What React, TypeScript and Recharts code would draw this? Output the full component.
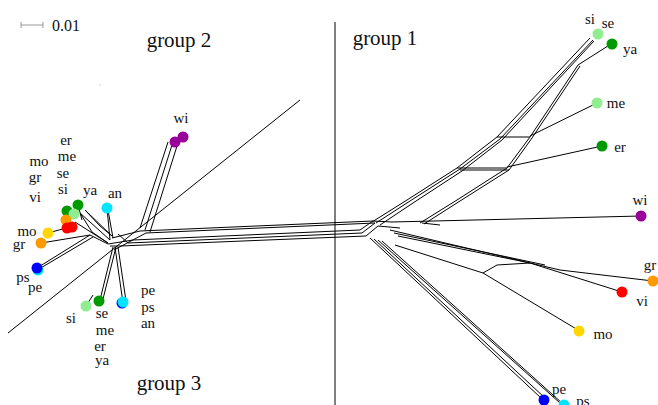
// Splits network of taxa in three groups, drawn on a pixel-like numeric plane.

import { ScatterChart, Scatter, XAxis, YAxis, ReferenceLine } from 'recharts';

const W = 658;
const H = 405;
const FONT = '"Liberation Serif", "DejaVu Serif", serif';

// taxa dots
const dotName = ['wi', 'wi', 'er', 'ya', 'si', 'mo', 'vi', 'vi', 'mo', 'gr', 'ps', 'pe', 'an', 'si', 'se', 'ps', 'an',
  'si', 'ya', 'me', 'er', 'wi', 'gr', 'vi', 'mo', 'pe', 'ps'];
const dotX = [175, 183, 67, 78, 74, 66, 67, 72, 48, 41, 38, 37, 107, 86, 99, 122, 123,
  598, 612, 597, 602, 641, 653, 622, 579, 544, 564];
const dotY = [142, 137, 211, 205, 214, 220, 228, 227, 233, 243, 270, 268, 208, 306, 301, 303, 302,
  34, 44, 103, 146, 216, 281, 292, 331, 400, 405];
const dotColor = ['#990099', '#990099', '#009900', '#009900', '#90ee90', '#ff9900', '#ff0000', '#ff0000', '#ffd700',
  '#ff9900', '#00e5ff', '#0000ff', '#00e5ff', '#90ee90', '#009900', '#0000ff', '#00e5ff',
  '#90ee90', '#009900', '#90ee90', '#009900', '#990099', '#ff9900', '#ff0000', '#ffd700', '#0000ff', '#00e5ff'];

// taxon labels
const labelText = ['wi', 'er', 'me', 'se', 'si', 'mo', 'gr', 'vi', 'ya', 'an', 'mo', 'gr', 'ps', 'pe', 'si',
  'se', 'me', 'er', 'ya', 'pe', 'ps', 'an',
  'si', 'se', 'ya', 'me', 'er', 'wi', 'gr', 'vi', 'mo', 'pe', 'ps'];
const labelX = [181, 66, 67, 63, 63, 39, 35, 35, 90, 115, 27, 19, 23, 35, 71,
  102, 105, 100, 102, 148, 148, 148,
  590, 608, 630, 616, 620, 640, 650, 642, 603, 559, 583];
const labelY = [118, 140, 156, 173, 189, 161, 177, 197, 190, 193, 231, 244, 277, 287, 318,
  313, 330, 346, 360, 290, 307, 323,
  19, 23, 49, 103, 147, 200, 265, 301, 334, 389, 401];

const groupText = ['group 1', 'group 2', 'group 3'];
const groupX = [385, 179, 169];
const groupY = [38, 40, 383];

// network edges [x1, y1, x2, y2]
const edges: number[][] = [
  // central band
  [140, 231, 373, 221], [146, 233, 375, 223], [133, 240, 360, 230], [128, 243, 362, 233], [120, 246, 366, 236],
  // left hub
  [112, 238, 140, 231], [108, 244, 133, 240], [114, 250, 146, 233], [118, 234, 128, 243], [110, 246, 120, 246],
  // wi branch (group 2)
  [145, 230, 172, 145], [150, 232, 177, 146], [140, 228, 168, 142],
  // left cluster
  [110, 240, 80, 213], [112, 236, 85, 210], [108, 243, 75, 222], [80, 213, 92, 232], [85, 210, 100, 226],
  [78, 205, 82, 220], [100, 226, 112, 236], [92, 232, 108, 243],
  [107, 208, 110, 240], [108, 210, 113, 238],
  [48, 233, 77, 225], [41, 243, 90, 235], [37, 268, 90, 235], [39, 269, 93, 237], [90, 235, 108, 244],
  // lower group 2
  [113, 247, 100, 300], [116, 247, 103, 299], [115, 247, 123, 303], [118, 247, 126, 301], [93, 295, 86, 306],
  // right hub
  [360, 230, 373, 221], [362, 233, 375, 223], [366, 236, 378, 226], [373, 221, 392, 222], [378, 226, 400, 228],
  // group 1 bunch to si/se
  [372, 222, 407, 200], [376, 223, 410, 201], [380, 225, 413, 203],
  [407, 200, 457, 168], [410, 201, 460, 169], [413, 203, 462, 171],
  [457, 168, 497, 137], [460, 169, 500, 139], [462, 171, 502, 140],
  [497, 137, 590, 38], [500, 139, 593, 40], [502, 140, 594, 41],
  // group 1 bunch to ya
  [420, 223, 457, 200], [424, 224, 460, 201], [457, 200, 507, 168], [460, 201, 509, 170],
  [507, 168, 530, 137], [509, 170, 532, 138], [530, 137, 578, 65], [532, 138, 580, 66], [578, 65, 611, 44],
  // me and er
  [497, 137, 530, 137], [530, 136, 597, 103], [457, 168, 507, 168], [460, 170, 509, 170], [507, 167, 602, 146],
  // wi, gr, vi, mo
  [392, 222, 641, 216], [422, 223, 440, 225],
  [390, 230, 560, 270], [394, 233, 545, 265], [398, 236, 530, 263], [560, 270, 653, 281], [530, 263, 622, 292],
  [395, 245, 483, 273], [483, 273, 578, 330], [483, 273, 497, 265], [497, 265, 530, 263],
  // pe / ps
  [370, 238, 541, 398], [374, 239, 545, 398], [378, 240, 560, 403], [382, 241, 563, 404],
];

// group separators
const separators: number[][] = [
  [335, 22, 335, 405],
  [300, 100, 8, 333],
];

const dotData = dotName.map((name, i) => ({ name, x: dotX[i], y: dotY[i], color: dotColor[i] }));
const labelData = labelText.map((text, i) => ({ text, x: labelX[i], y: labelY[i] }));
const groupData = groupText.map((text, i) => ({ text, x: groupX[i], y: groupY[i] }));
const scaleData = [{ text: '0.01', x: 52, y: 25 }];
const speck = [{ x: 100, y: 85 }];

function Dot(props: any) {
  const { cx, cy, payload } = props;
  return <circle cx={cx} cy={cy} r={5.5} fill={payload.color} />;
}

function Speck(props: any) {
  return <circle cx={props.cx} cy={props.cy} r={0.6} fill="#999" />;
}

function makeText(size: number, anchor: string) {
  return (props: any) => {
    const { cx, cy, payload } = props;
    return (
      <text x={cx} y={cy} fontSize={size} fontFamily={FONT} fill="#111" textAnchor={anchor} dominantBaseline="central">
        {payload.text}
      </text>
    );
  };
}

export default function App() {
  return (
    <div style={{ position: 'absolute', left: 0, top: 0, background: '#fff' }}>
      <ScatterChart width={W} height={H} margin={{ top: 0, right: 0, bottom: 0, left: 0 }}>
        <XAxis type="number" dataKey="x" domain={[0, W]} hide />
        <YAxis type="number" dataKey="y" domain={[0, H]} reversed hide />
        {separators.map((s, i) => (
          <ReferenceLine key={'s' + i} segment={[{ x: s[0], y: s[1] }, { x: s[2], y: s[3] }]} stroke="#000" strokeWidth={1} ifOverflow="visible" />
        ))}
        {edges.map((e, i) => (
          <ReferenceLine key={'e' + i} segment={[{ x: e[0], y: e[1] }, { x: e[2], y: e[3] }]} stroke="#000" strokeWidth={1} ifOverflow="visible" />
        ))}
        <ReferenceLine segment={[{ x: 21, y: 25 }, { x: 43, y: 25 }]} stroke="#999" ifOverflow="visible" />
        <ReferenceLine segment={[{ x: 21, y: 22 }, { x: 21, y: 28 }]} stroke="#999" ifOverflow="visible" />
        <ReferenceLine segment={[{ x: 43, y: 22 }, { x: 43, y: 28 }]} stroke="#999" ifOverflow="visible" />
        <Scatter data={speck} shape={Speck} isAnimationActive={false} />
        <Scatter data={dotData} shape={Dot} isAnimationActive={false} />
        <Scatter data={labelData} shape={makeText(15, 'middle')} isAnimationActive={false} />
        <Scatter data={groupData} shape={makeText(21, 'middle')} isAnimationActive={false} />
        <Scatter data={scaleData} shape={makeText(16, 'start')} isAnimationActive={false} />
      </ScatterChart>
    </div>
  );
}
